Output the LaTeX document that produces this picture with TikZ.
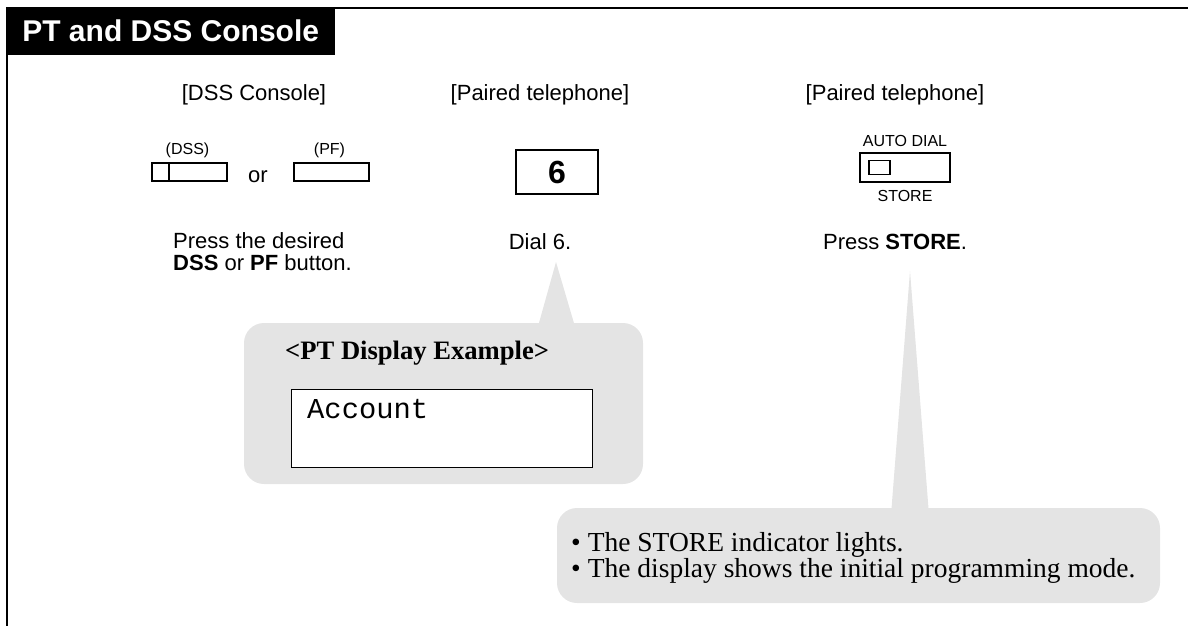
\documentclass[tikz,border=0pt]{standalone}
\usepackage{fontspec}
\setmainfont{Liberation Serif}
\setsansfont{Liberation Sans}
\setmonofont{Liberation Mono}
\usetikzlibrary{positioning}
\definecolor{grisclaro}{RGB}{228,228,228}

\begin{document}
\begin{tikzpicture}[
			x=1pt, y=-1pt,
			every node/.style = {
				inner sep=0pt,
				font=\sffamily\fontsize{22}{22.5}\selectfont
			},
			etiqueta/.style = {font=\sffamily\fontsize{16}{16}\selectfont},
			boton/.style = {draw, line width=1.8pt, minimum width=75pt, minimum height=18pt},
			globo/.style = {fill=grisclaro, rounded corners=20pt},
			texto/.style = {font=\rmfamily\fontsize{27.5}{26}\selectfont, align=left}
			]
			
			\useasboundingbox (0,0) rectangle (1188,626);
			
			\node[fill=black, anchor=north west, text=white, minimum width=329pt, minimum height=48pt,
				font=\sffamily\bfseries\fontsize{30}{30}\selectfont] (titulo) at (6,7) {PT and DSS Console};
			\coordinate (derecha) at (1188,8.2);
			\coordinate (abajo) at (7,626);
			\draw[line width=2.5pt] (titulo.north east |- derecha) -- (derecha);
			\draw[line width=2pt] (titulo.south west -| abajo) -- (abajo);
			
			\node[anchor=base] (consola) at (254,100) {[DSS Console]};
			\node[anchor=base] (pareado) at (540,100) {[Paired telephone]};
			\node[anchor=base] (pareado2) at (895,100) {[Paired telephone]};
			
			\node[boton] (dss) at (189.5,172) {};
			\draw[line width=1.8pt] ([xshift=18pt]dss.north west) -- ([xshift=18pt]dss.south west);
			\node[etiqueta, above=4pt of dss, xshift=-2pt] (dsslbl) {(DSS)};
			\node[anchor=base] (o) at (258,182) {or};
			\node[boton] (pf) at (331.5,172) {};
			\node[etiqueta, above=4pt of pf, xshift=-2pt] (pflbl) {(PF)};
			
			\node[draw, line width=2.5pt, minimum width=82pt, minimum height=44pt,
				font=\sffamily\bfseries\fontsize{32}{32}\selectfont] (seis) at (557,172) {6};
			
			\node[boton, minimum width=90pt, minimum height=29pt] (autodial) at (905,167.5) {};
			\node[draw, line width=1.8pt, minimum width=21pt, minimum height=14pt,
				right=9pt of autodial.west] (led) {};
			\node[etiqueta, above=5pt of autodial] (autolbl) {AUTO DIAL};
			\node[etiqueta, below=7pt of autodial] (storelbl) {STORE};
			
			\node[anchor=north west, align=left] (paso1) at (173,232) {Press the desired\\\textbf{DSS} or \textbf{PF} button.};
			\node[anchor=base] (paso2) at (540,249) {Dial 6.};
			\node[anchor=base] (paso3) at (895,249) {Press \textbf{STORE}.};
			
			\coordinate (punta1) at (556,262);
			\coordinate (punta2) at (910,271);
			
			\path[globo] (244,323) rectangle (643,484);
			\fill[grisclaro] (537,330) -- (punta1) -- (576,330) -- cycle;
			\node[anchor=base west, font=\rmfamily\bfseries\fontsize{26.6}{26.6}\selectfont] (ejemplo) at (285,359) {<PT Display Example>};
			\node[draw, line width=1pt, fill=white, anchor=north west, minimum width=301pt, minimum height=78pt] (pantalla) at (290.5,389) {};
			\node[anchor=base west, font=\ttfamily\fontsize{28.8}{28.8}\selectfont] (cuenta) at (307,418) {Account};
			
			\path[globo] (557,508) rectangle (1160,603);
			\fill[grisclaro] (891,515) -- (punta2) -- (929,515) -- cycle;
			\node[texto, anchor=north west] (notas) at (571,532) {\textbullet\hspace{7pt}The STORE indicator lights.\\\textbullet\hspace{7pt}The display shows the initial programming mode.};
			
		\end{tikzpicture}
\end{document}
